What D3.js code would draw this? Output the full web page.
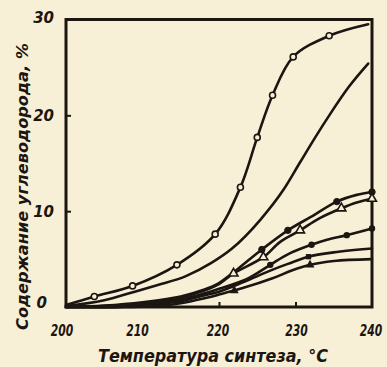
<!DOCTYPE html>
<html><head><meta charset="utf-8">
<script src="https://cdn.jsdelivr.net/npm/d3@7"></script>
<style>
html,body{margin:0;padding:0;background:#f8f0d6;}
svg{display:block;}
text{font-family:"DejaVu Sans","Liberation Sans",sans-serif;font-style:italic;font-weight:bold;fill:#1c1612;}
</style></head><body>
<svg id="c" width="387" height="367"></svg>
<script>
// ---- data (temperature °C, hydrocarbon content %) ----
const xTicks = [200, 210, 220, 230, 240];
const yTicks = [0, 10, 20, 30];
const xTitle = "Температура синтеза, °C";
const yTitle = "Содержание углеводорода, %";

// curve 1 – open circles
const s1Line = [[200,0.2],[203.7,1.1],[208.7,2.2],[214.5,4.4],[219.5,7.6],[222.8,12.5],[225.0,17.7],[227.0,22.1],[229.7,26.1],[234.4,28.3],[239.5,29.5]];
const s1Marks = [[203.7,1.1],[208.7,2.2],[214.5,4.4],[219.5,7.6],[222.8,12.5],[225.0,17.7],[227.0,22.1],[229.7,26.1],[234.4,28.3]];
// curve 2 – no markers
const s2Line = [[200,0.1],[205,0.7],[209,1.6],[212,2.3],[215.6,3.2],[219,4.6],[221.7,6.1],[225.4,9.1],[228.4,12.2],[230.6,15.1],[232.5,17.6],[234.5,20.1],[237,23.0],[239.5,25.4]];
// curves 3–7
const s3Line = [[200,0],[205,0.15],[210,0.5],[215,1.1],[218,1.8],[220,2.5],[222.5,4.0],[225.6,6.0],[229,8.0],[232,9.4],[235.4,11.0],[238,11.7],[240,12.0]];
const s3Marks = [[225.6,6.0],[229,8.0],[235.4,11.0],[240,12.0]];
const s4Line = [[200,0],[205,0.1],[210,0.4],[215,1.0],[218,1.7],[220,2.4],[221.9,3.5],[225.8,5.2],[228,6.8],[230.6,8.0],[233,9.2],[236,10.3],[238,10.9],[240,11.3]];
const s4Marks = [[221.9,3.5],[225.8,5.2],[230.6,8.0],[236,10.3],[240,11.3]];
const s5Line = [[200,0],[206,0.1],[210,0.3],[215,0.8],[218,1.4],[220,1.9],[223.6,2.9],[226.7,4.4],[229,5.5],[232.1,6.5],[234,7.0],[236.7,7.5],[240,8.2]];
const s5Marks = [[213,0.6],[226.7,4.4],[232.1,6.5],[236.7,7.5],[240,8.2]];
const s6Line = [[200,0],[207,0],[210,0.2],[215,0.6],[218,1.2],[220,1.6],[223.2,2.6],[226.7,3.8],[229,4.5],[231.7,5.25],[235,5.7],[240,6.1]];
const s6Marks = [[215,0.6],[231.7,5.25]];
const s7Line = [[200,0],[208,0],[212,0.1],[215,0.4],[218,0.9],[220,1.3],[223.2,2.0],[227,3.0],[229.5,3.8],[231.9,4.4],[235,4.8],[240,5.0]];
const s7Marks = [[212.5,0.2],[222,1.7],[231.9,4.4]];

const ink = "#1c1612";
const svg = d3.select("#c");
const L = 66, R = 372, T = 19.5, B = 307;
const x = d3.scaleLinear().domain([200,240]).range([L,R]);
const y = d3.scaleLinear().domain([0,30]).range([B,T]);

// frame
svg.append("rect").attr("x",L).attr("y",T).attr("width",R-L).attr("height",B-T)
  .attr("fill","none").attr("stroke",ink).attr("stroke-width",3);

// axes (inner ticks)
const xAxis = d3.axisTop(x).tickValues([210,220,230]).tickSize(5).tickFormat("");
svg.append("g").attr("transform",`translate(0,${B})`).call(xAxis)
  .call(g=>{g.select(".domain").remove(); g.selectAll("line").attr("stroke",ink).attr("stroke-width",2);});
const yAxis = d3.axisRight(y).tickValues([10,20]).tickSize(5).tickFormat("");
svg.append("g").attr("transform",`translate(${L},0)`).call(yAxis)
  .call(g=>{g.select(".domain").remove(); g.selectAll("line").attr("stroke",ink).attr("stroke-width",2);});

// tick labels (condensed via horizontal scaling)
const xOff = {200:-4, 210:-5, 220:-1, 230:1, 240:-1};
svg.selectAll(".xl").data(xTicks).enter().append("text")
  .attr("transform",d=>`translate(${x(d)+xOff[d]},336) scale(0.72,1)`)
  .attr("text-anchor","middle").attr("font-size",15).text(d=>d);
svg.selectAll(".yl").data(yTicks).enter().append("text")
  .attr("x",d=>d===0?47:54).attr("y",d=>d===0?308:(d===30?y(d)+3:y(d)+6)).attr("text-anchor","end")
  .attr("font-size",15).text(d=>d);

// titles
svg.append("text").attr("x",98).attr("y",362).attr("font-size",17)
  .attr("textLength",230).attr("lengthAdjust","spacingAndGlyphs").text(xTitle);
svg.append("text").attr("transform","translate(28,330) rotate(-90)").attr("font-size",16)
  .attr("textLength",287).attr("lengthAdjust","spacingAndGlyphs").text(yTitle);

// lines
const line = d3.line().x(d=>x(d[0])).y(d=>y(d[1])).curve(d3.curveCatmullRom.alpha(0.5));
const lineM = d3.line().x(d=>x(d[0])).y(d=>y(d[1])).curve(d3.curveMonotoneX);
[s1Line,s2Line,s3Line,s4Line,s5Line,s6Line,s7Line].forEach((s,i)=>{
  svg.append("path").attr("d",(i===1?lineM:line)(s)).attr("fill","none").attr("stroke",ink)
    .attr("stroke-width",2.6).attr("stroke-linecap","round");
});

// markers
const bg = "#f8f0d6";
svg.selectAll(".m1").data(s1Marks).enter().append("circle")
  .attr("cx",d=>x(d[0])).attr("cy",d=>y(d[1])).attr("r",3)
  .attr("fill",bg).attr("stroke",ink).attr("stroke-width",1.6);
svg.selectAll(".m3").data(s3Marks).enter().append("circle")
  .attr("cx",d=>x(d[0])).attr("cy",d=>y(d[1])).attr("r",3.2)
  .attr("fill",ink).attr("stroke",ink).attr("stroke-width",1);
const tri = d3.symbol().type(d3.symbolTriangle).size(34);
svg.selectAll(".m4").data(s4Marks).enter().append("path")
  .attr("d",tri).attr("transform",d=>`translate(${x(d[0])},${y(d[1])})`)
  .attr("fill",bg).attr("stroke",ink).attr("stroke-width",1.6);
svg.selectAll(".m5").data(s5Marks).enter().append("circle")
  .attr("cx",d=>x(d[0])).attr("cy",d=>y(d[1])).attr("r",3.2)
  .attr("fill",ink);
const sq = d3.symbol().type(d3.symbolSquare).size(28);
svg.selectAll(".m6").data(s6Marks).enter().append("path")
  .attr("d",sq).attr("transform",d=>`translate(${x(d[0])},${y(d[1])})`)
  .attr("fill",ink);
svg.selectAll(".m7").data(s7Marks).enter().append("path")
  .attr("d",tri).attr("transform",d=>`translate(${x(d[0])},${y(d[1])})`)
  .attr("fill",ink);
</script></body></html>
